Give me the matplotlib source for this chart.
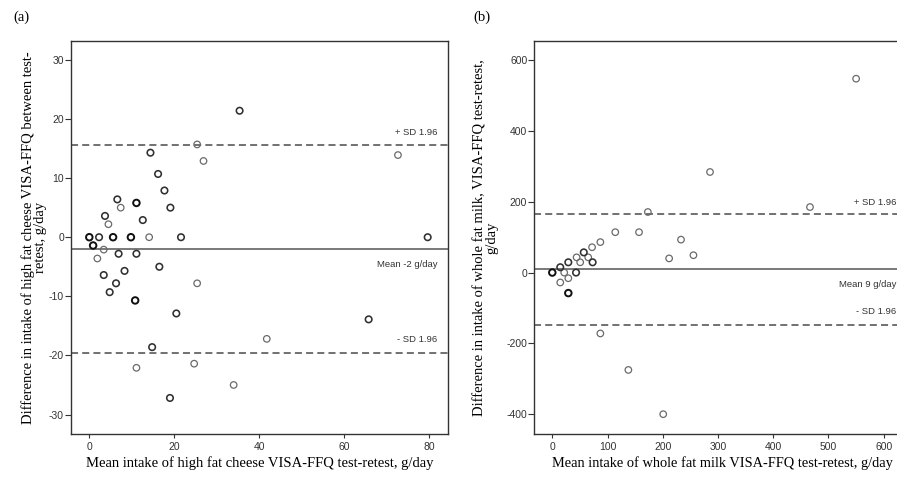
import numpy as np
import matplotlib.pyplot as plt

plt.rcParams['axes.unicode_minus'] = False

# Bland-Altman data, panel (a): high fat cheese, g/day
# n = number of overlapping observations at the same spot
cheese_mean = [35.4, 25.4, 26.9, 72.7, 14.4, 16.2, 17.7, 6.6, 7.4, 11.1, 19.1, 12.6,
               3.7, 4.5, 0.0, 2.3, 5.6, 9.8, 14.1, 21.6, 79.7, 0.9, 3.4, 1.9, 6.9,
               11.1, 3.4, 8.3, 16.5, 6.3, 4.8, 25.4, 10.8, 20.5, 65.8, 41.8, 14.8,
               11.1, 24.7, 34.0, 19.0]
cheese_diff = [21.4, 15.7, 12.9, 13.9, 14.3, 10.7, 7.9, 6.4, 5.0, 5.8, 5.0, 2.9,
               3.6, 2.2, 0.0, 0.0, 0.0, 0.0, 0.0, 0.0, 0.0, -1.4, -2.1, -3.6, -2.8,
               -2.8, -6.4, -5.7, -5.0, -7.8, -9.3, -7.8, -10.7, -12.9, -13.9, -17.2,
               -18.6, -22.1, -21.4, -25.0, -27.2]
cheese_n = [2, 1, 1, 1, 2, 2, 2, 2, 1, 3, 2, 2,
            2, 1, 3, 2, 3, 3, 1, 2, 2, 3, 1, 1, 2,
            2, 2, 2, 2, 2, 2, 1, 3, 2, 2, 1, 2,
            1, 1, 1, 2]
cheese_lines = {'mean': -1.95, 'upper': 15.67, 'lower': -19.67}

# panel (b): whole fat milk, g/day
milk_mean = [550, 285.5, 466.5, 173, 114, 157, 233, 87, 72, 57, 65, 44, 50.5, 73,
             29, 211.5, 255.5, 14.4, 0, 21.6, 43, 14.4, 29, 29, 87, 137.7, 200.8]
milk_diff = [547.5, 284, 185, 171, 114, 114, 93, 86, 71.5, 57, 43, 43, 29, 29,
             29, 40, 49, 15, 0, 0, 0, -28, -16, -58, -172, -275, -400]
milk_n = [1, 1, 1, 1, 1, 1, 1, 1, 1, 2, 1, 1, 1, 2,
          2, 1, 1, 2, 3, 1, 2, 1, 1, 3, 1, 1, 1]
milk_lines = {'mean': 9.3, 'upper': 165.4, 'lower': -148}

SERIF = 'Liberation Serif'
SANS = 'Liberation Sans'
styles = {1: ('#6a6a6a', 0.9), 2: ('#303030', 1.15), 3: ('#101010', 1.4)}


def bland_altman(ax, x, y, n, lines, mean_text, text_x):
    x, y, n = np.array(x), np.array(y), np.array(n)
    for k, (col, lw) in styles.items():
        m = n == k
        ax.scatter(x[m], y[m], s=22, facecolors='none', edgecolors=col,
                   linewidths=lw, zorder=3)
    ax.axhline(lines['mean'], color='#555555', lw=1.1, zorder=2)
    for key in ('upper', 'lower'):
        ax.axhline(lines[key], color='#666666', lw=1.3, dashes=(3.9, 2.3), zorder=2)

    span = ax.get_ylim()[1] - ax.get_ylim()[0]
    tk = dict(ha='right', va='center', fontsize=6.8, family=SANS, color='#333333')
    ax.text(text_x, lines['upper'] + span * 0.03, '+ SD 1.96', **tk)
    ax.text(text_x, lines['mean'] - span * 0.04, mean_text, **tk)
    ax.text(text_x, lines['lower'] + span * 0.035, '- SD 1.96', **tk)

    for s in ax.spines.values():
        s.set_color('#333333')
        s.set_linewidth(1.0)
    ax.tick_params(axis='y', length=4.3, pad=0.8)
    ax.tick_params(axis='x', length=3.0, pad=2.5)
    ax.tick_params(direction='out', width=0.8, color='#333333',
                   labelsize=7.5, labelcolor='#333333')
    for lab in ax.get_xticklabels() + ax.get_yticklabels():
        lab.set_family(SANS)


fig = plt.figure(figsize=(8.97, 4.80), dpi=100)

ax1 = fig.add_axes([0.0792, 0.0958, 0.4203, 0.8188])
ax1.set_xlim(-4.3, 84.5)
ax1.set_ylim(-33.3, 33.2)
ax1.set_xticks([0, 20, 40, 60, 80])
ax1.set_yticks([-30, -20, -10, 0, 10, 20, 30])
bland_altman(ax1, cheese_mean, cheese_diff, cheese_n, cheese_lines,
             'Mean -2 g/day', 82.0)
ax1.set_xlabel('Mean intake of high fat cheese VISA-FFQ test-retest, g/day',
               family=SERIF, fontsize=10.5, labelpad=3)
ax1.set_ylabel('Difference in intake of high fat cheese VISA-FFQ between test-\nretest, g/day',
               family=SERIF, fontsize=10.5, labelpad=1.5, linespacing=0.9)

ax2 = fig.add_axes([0.5957, 0.0958, 0.4203, 0.8188])
ax2.set_xlim(-32.5, 650)
ax2.set_ylim(-456, 654)
ax2.set_xticks([0, 100, 200, 300, 400, 500, 600])
ax2.set_yticks([-400, -200, 0, 200, 400, 600])
bland_altman(ax2, milk_mean, milk_diff, milk_n, milk_lines,
             'Mean 9 g/day', 622)
ax2.set_xlabel('Mean intake of whole fat milk VISA-FFQ test-retest, g/day',
               family=SERIF, fontsize=10.4, labelpad=3)
ax2.set_ylabel('Difference in intake of whole fat milk, VISA-FFQ test-retest,\ng/day',
               family=SERIF, fontsize=10.5, labelpad=6, linespacing=0.9)

fig.text(0.0145, 0.965, '(a)', family=SERIF, fontsize=10.5, va='center')
fig.text(0.528, 0.965, '(b)', family=SERIF, fontsize=10.5, va='center')

fig.savefig('out.png', dpi=100)
